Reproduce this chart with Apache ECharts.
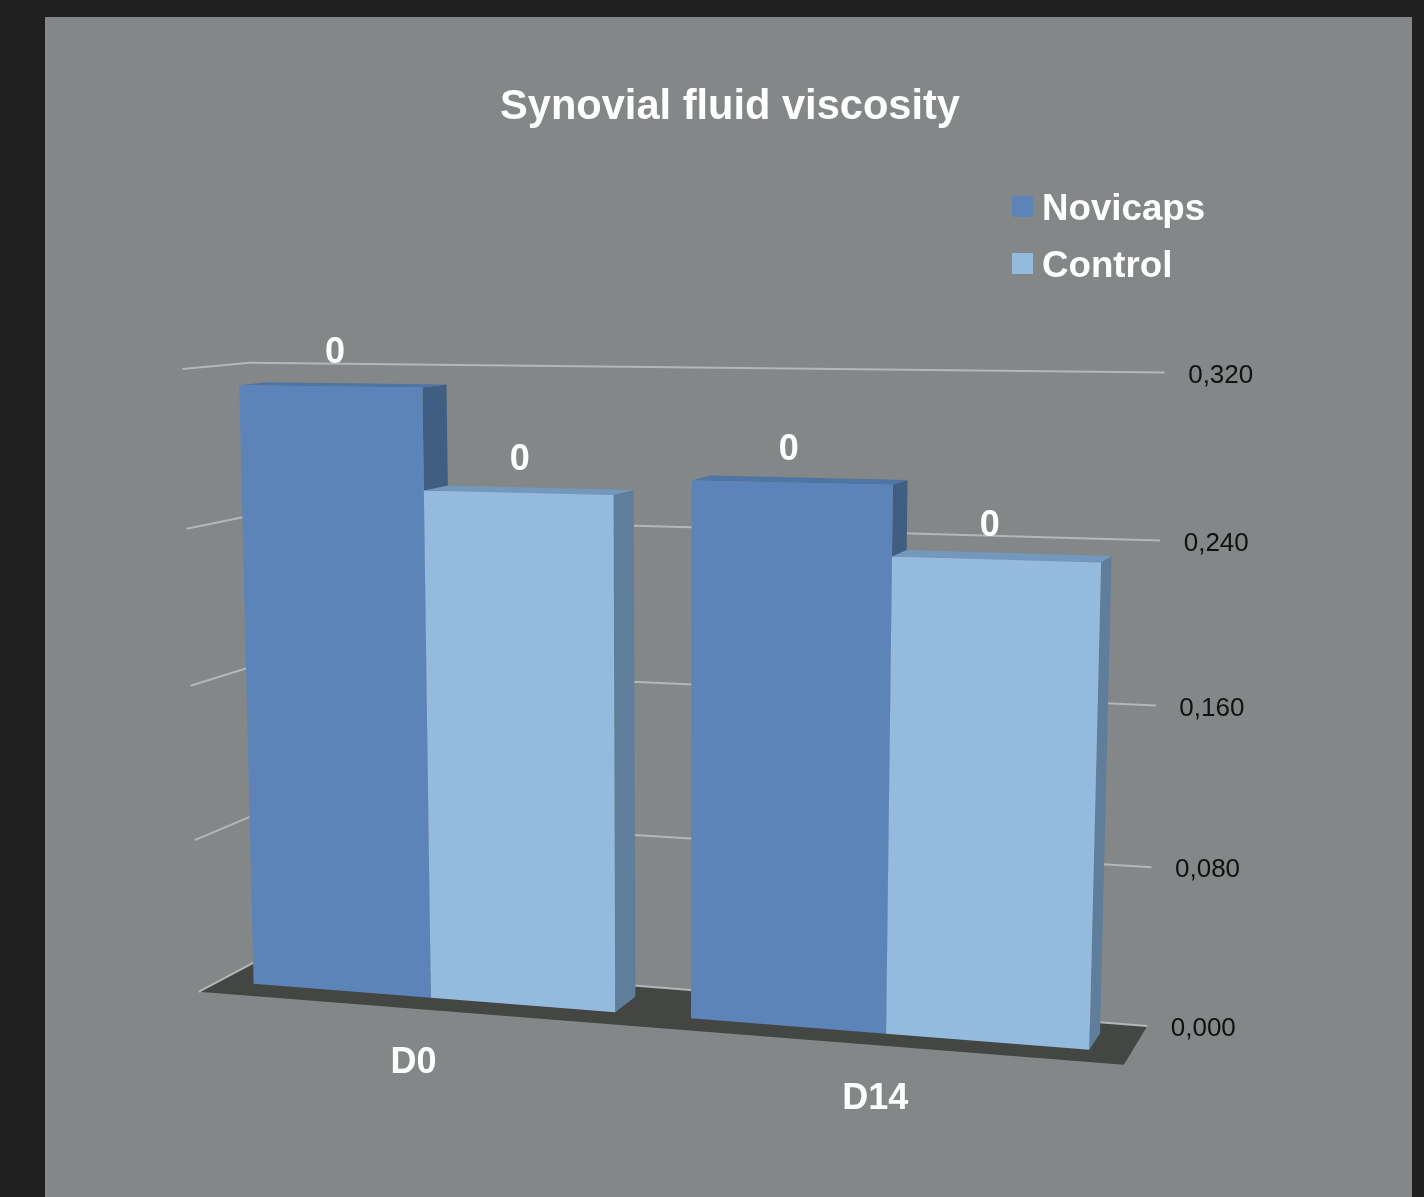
<!DOCTYPE html>
<html>
<head>
<meta charset="utf-8">
<title>Synovial fluid viscosity</title>
<style>
html, body { margin: 0; padding: 0; background: #202020; }
#chart { width: 1424px; height: 1197px; }
</style>
<script src="https://cdn.jsdelivr.net/npm/echarts@6/dist/echarts.min.js"></script>
</head>
<body>
<div id="chart"></div>
<script>
var categories = ['D0', 'D14'];
var seriesNames = ['Novicaps', 'Control'];
var novicaps = [0.311, 0.268];
var control = [0.26, 0.234];
var yTicks = [0, 0.08, 0.16, 0.24, 0.32];

var font = '"Liberation Sans", Arial, sans-serif';

// the picture is a 3D bar chart, so grid pixels get warped onto a tilted plane
var corners = [[219, 981], [1131, 1053], [1149, 377], [203, 367]]; // u,v = 00, 10, 11, 01
var vanish = [1625, 237];
var depthFront = -0.0145, depthWall = 0.033, barDepth = 0.02;
var barShare = 1 / 2.4; // one bar as part of a category band

var warp = (function() {
    var p = corners;
    var sx = p[0][0] - p[1][0] + p[2][0] - p[3][0], sy = p[0][1] - p[1][1] + p[2][1] - p[3][1];
    var dx1 = p[1][0] - p[2][0], dx2 = p[3][0] - p[2][0];
    var dy1 = p[1][1] - p[2][1], dy2 = p[3][1] - p[2][1];
    var den = dx1 * dy2 - dx2 * dy1;
    var g = (sx * dy2 - dx2 * sy) / den, h = (dx1 * sy - sx * dy1) / den;
    var a = p[1][0] - p[0][0] + g * p[1][0], b = p[3][0] - p[0][0] + h * p[3][0];
    var d = p[1][1] - p[0][1] + g * p[1][1], e = p[3][1] - p[0][1] + h * p[3][1];
    return function(u, v, t) {
        var w = g * u + h * v + 1;
        var x = (a * u + b * v + p[0][0]) / w, y = (d * u + e * v + p[0][1]) / w;
        return [x + t * (vanish[0] - x), y + t * (vanish[1] - y)];
    };
})();

function toPlane(params, pt) {
    var r = params.coordSys;
    return [(pt[0] - r.x) / r.width, (r.y + r.height - pt[1]) / r.height];
}

function poly(points, fill) {
    return { type: 'polygon', shape: { points: points }, style: { fill: fill } };
}

function line(a, b) {
    return {
        type: 'line',
        shape: { x1: a[0], y1: a[1], x2: b[0], y2: b[1] },
        style: { stroke: '#b4b7b7', lineWidth: 2 }
    };
}

function text(str, pos, size, weight, color) {
    return {
        type: 'text',
        x: pos[0], y: pos[1],
        style: {
            text: str, fill: color, fontFamily: font, fontSize: size, fontWeight: weight,
            align: 'center', verticalAlign: 'middle'
        }
    };
}

function barRenderer(side, colors) {
    return function(params, api) {
        var pt = api.coord([api.value(0), api.value(1)]);
        var base = api.coord([api.value(0), 0]);
        var band = api.size([1, 0])[0];
        var px = side < 0 ? base[0] - band * barShare : base[0];
        var u0 = toPlane(params, [px, base[1]])[0];
        var u1 = toPlane(params, [px + band * barShare, base[1]])[0];
        var v = toPlane(params, pt)[1];
        var labelAt = warp((u0 + u1) / 2, v, 0);
        // labels sit a bit closer to the middle of the chart than the bar centres
        var labelX = labelAt[0] + 5 - 0.016 * (labelAt[0] - 330);
        return {
            type: 'group',
            children: [
                poly([warp(u1, 0, 0), warp(u1, 0, barDepth), warp(u1, v, barDepth), warp(u1, v, 0)], colors[1]),
                poly([warp(u0, v, 0), warp(u1, v, 0), warp(u1, v, barDepth), warp(u0, v, barDepth)], colors[2]),
                poly([warp(u0, 0, 0), warp(u1, 0, 0), warp(u1, v, 0), warp(u0, v, 0)], colors[0]),
                text(String(Math.round(api.value(1))), [labelX, labelAt[1] - 33], 36, 'bold', '#ffffff')
            ]
        };
    };
}

var myChart = echarts.init(document.getElementById('chart'));

var option = {
    backgroundColor: '#202020',
    animation: false,
    graphic: [{
        type: 'rect',
        z: -10,
        shape: { x: 45, y: 17, width: 1367, height: 1180 },
        style: { fill: '#838787' }
    }],
    title: {
        text: 'Synovial fluid viscosity',
        left: 725,
        top: 103,
        textAlign: 'center',
        textVerticalAlign: 'middle',
        textStyle: { color: '#ffffff', fontFamily: font, fontSize: 41.6, fontWeight: 'bold' }
    },
    legend: {
        data: seriesNames,
        orient: 'vertical',
        left: 1012,
        top: 191.5,
        padding: 0,
        itemWidth: 21,
        itemHeight: 21,
        itemGap: 20,
        icon: 'rect',
        selectedMode: false,
        formatter: '{t|{name}}',
        textStyle: {
            rich: {
                t: { color: '#ffffff', fontFamily: font, fontSize: 36.7, fontWeight: 'bold', padding: [7, 0, 0, 4] }
            }
        }
    },
    grid: { left: 200, top: 360, width: 950, height: 680 },
    xAxis: { type: 'category', data: categories, show: false },
    yAxis: { type: 'value', min: 0, max: 0.32, interval: 0.08, show: false },
    series: [
        {
            name: 'frame',
            type: 'custom',
            silent: true,
            z: 1,
            clip: false,
            data: yTicks.map(function(v) { return [0, v]; }),
            renderItem: function(params, api) {
                var v = toPlane(params, api.coord([0, api.value(1)]))[1];
                var wallEnd = warp(1, v, depthWall);
                var kids = [];
                if (v < 0.001) {
                    kids.push(poly([warp(0, 0, depthFront), warp(1, 0, depthFront), warp(1, 0, depthWall), warp(0, 0, depthWall)], '#444644'));
                }
                kids.push(line(warp(0, v, depthFront), warp(0, v, depthWall)));
                kids.push(line(warp(0, v, depthWall), wallEnd));
                kids.push(text(api.value(1).toFixed(3).replace('.', ','), [wallEnd[0] + 56, wallEnd[1] + 3], 26, 'normal', '#111111'));
                return { type: 'group', children: kids };
            }
        },
        {
            name: 'categories',
            type: 'custom',
            silent: true,
            z: 1,
            clip: false,
            data: categories.map(function(c, i) { return [i, 0]; }),
            renderItem: function(params, api) {
                var u = toPlane(params, api.coord([api.value(0), 0]))[0];
                var at = warp(u, 0, depthFront);
                return text(categories[api.value(0)], [at[0], at[1] + 54], 36, 'bold', '#ffffff');
            }
        },
        {
            name: seriesNames[0],
            type: 'custom',
            z: 2,
            clip: false,
            itemStyle: { color: '#5c84b9' },
            data: novicaps.map(function(v, i) { return [i, v]; }),
            renderItem: barRenderer(-1, ['#5c84b9', '#3f5e82', '#4f75a6'])
        },
        {
            name: seriesNames[1],
            type: 'custom',
            z: 3,
            clip: false,
            itemStyle: { color: '#94bade' },
            data: control.map(function(v, i) { return [i, v]; }),
            renderItem: barRenderer(1, ['#94bade', '#5f7e9b', '#7298bd'])
        }
    ]
};

myChart.setOption(option);
</script>
</body>
</html>
